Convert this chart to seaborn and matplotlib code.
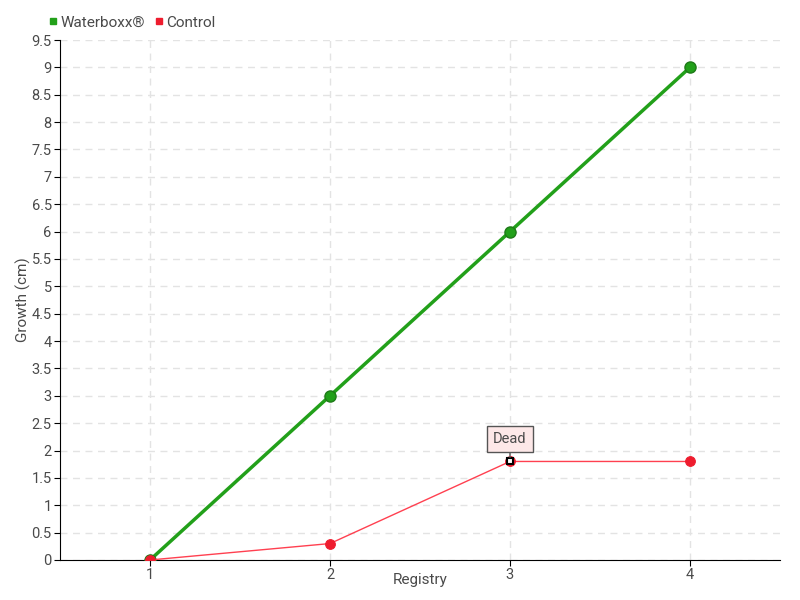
import matplotlib
matplotlib.use("Agg")
import matplotlib.pyplot as plt
import seaborn as sns
import pandas as pd
import numpy as np
from matplotlib.lines import Line2D

registry = [1, 2, 3, 4]
waterboxx = [0, 3, 6, 9]
control = [0, 0.3, 1.8, 1.8]
yticks = [0, 0.5, 1, 1.5, 2, 2.5, 3, 3.5, 4, 4.5, 5, 5.5, 6, 6.5, 7, 7.5, 8, 8.5, 9, 9.5]
ytick_labels = ["0", "0.5", "1", "1.5", "2", "2.5", "3", "3.5", "4", "4.5", "5", "5.5", "6", "6.5", "7", "7.5", "8", "8.5", "9", "9.5"]

sns.set_style("white")
plt.rcParams['font.family'] = ['Roboto', 'DejaVu Sans']

df = pd.DataFrame({
    "Registry": registry * 2,
    "Growth": waterboxx + control,
    "Series": ["Waterboxx®"] * 4 + ["Control"] * 4,
})

fig = plt.figure(figsize=(8, 6), dpi=100)
ax = fig.add_axes([0.075, 0.0667, 0.9, 0.8666])

green = "#22a01a"
red = "#ee1c2e"
text_c = "#4a4a4a"
sns.lineplot(data=df[df.Series == "Waterboxx®"], x="Registry", y="Growth", ax=ax,
             color=green, linewidth=2.5, marker="o", markersize=8,
             markeredgecolor="#1e7a18", markeredgewidth=1, zorder=3)
sns.lineplot(data=df[df.Series == "Control"], x="Registry", y="Growth", ax=ax,
             color="#ff4050", linewidth=1, marker="o", markersize=7,
             markerfacecolor=red, markeredgecolor=red, zorder=4)

# Dead marker highlight
ax.plot([registry[2]], [control[2]], marker="s", markersize=5, markerfacecolor="white",
        markeredgecolor="black", markeredgewidth=1.5, zorder=6, linestyle="none")
ax.annotate("Dead", xy=(registry[2], control[2]), xytext=(0, 16), textcoords="offset points",
            ha="center", va="center", fontsize=10.5, color=text_c,
            bbox=dict(boxstyle="square,pad=0.4", fc="#fde8e8", ec="#555555", lw=1),
            arrowprops=dict(arrowstyle="-", color="#555555", lw=1, shrinkA=0, shrinkB=3), zorder=7)

ax.set_xlim(0.5, 4.5)
ax.set_ylim(0, 9.5)
ax.set_xticks(registry)
ax.set_xticklabels([str(r) for r in registry])
ax.set_yticks(yticks)
ax.set_yticklabels(ytick_labels)
ax.grid(True, linestyle=(0, (5, 4)), color="#e3e3e3", linewidth=1)
ax.set_axisbelow(True)
for s in ["top", "right"]:
    ax.spines[s].set_visible(False)
ax.spines["left"].set_color("black")
ax.spines["bottom"].set_color("black")
ax.tick_params(axis="both", colors="black", labelcolor=text_c, labelsize=10.5,
               length=4, direction="out", left=True, bottom=True, pad=2)
ax.set_xlabel("Registry", fontsize=11, color=text_c)
ax.set_ylabel("Growth (cm)", fontsize=11, color=text_c)
ax.xaxis.set_label_coords(0.5, -0.026)
ax.yaxis.set_label_coords(-0.04, 0.5)

handles = [Line2D([], [], marker="s", color="none", markerfacecolor=green, markeredgecolor=green, markersize=5),
           Line2D([], [], marker="s", color="none", markerfacecolor=red, markeredgecolor=red, markersize=5)]
fig.legend(handles, ["Waterboxx®", "Control"], loc="upper left", bbox_to_anchor=(0.043, 0.997),
           ncol=2, frameon=False, fontsize=11, handlelength=0.6, handletextpad=0.2,
           columnspacing=0.6, labelcolor=text_c)

fig.savefig("out.png", dpi=100)
